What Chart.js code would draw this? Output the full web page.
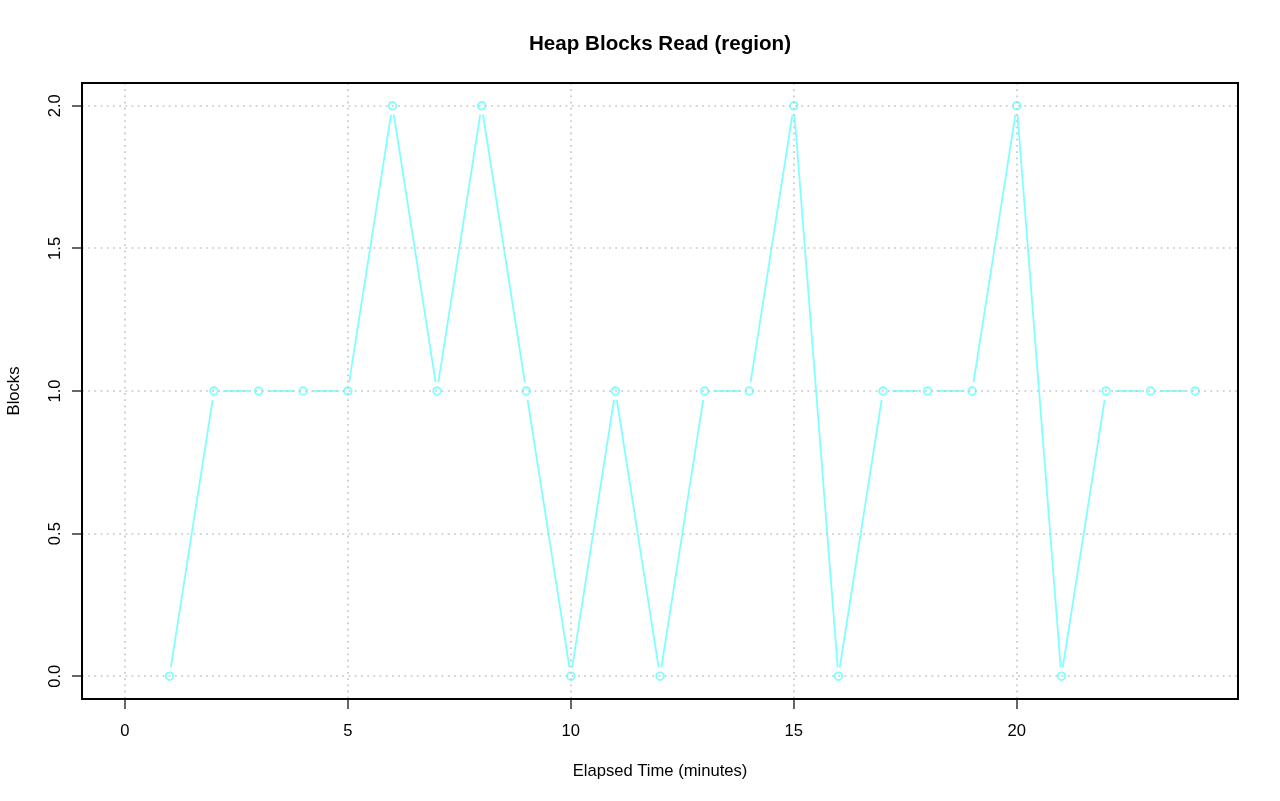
<!DOCTYPE html>
<html>
    <head>
        <meta charset="UTF-8"/>
        <script src="https://cdn.jsdelivr.net/npm/chart.js@4.4.1/dist/chart.umd.min.js"></script>
        <style>
            body { margin: 0; background: #fff; }
        </style>
    </head>
    <body>
        <canvas id="chart" width="1280" height="801"></canvas>

        <script>
        // data
        const minutes = [1, 2, 3, 4, 5, 6, 7, 8, 9, 10, 11, 12, 13, 14, 15, 16, 17, 18, 19, 20, 21, 22, 23, 24];
        const blocks  = [0, 1, 1, 1, 1, 2, 1, 2, 1, 0, 1, 0, 1, 1, 2, 0, 1, 1, 1, 2, 0, 1, 1, 1];
        const xTicks = [0, 5, 10, 15, 20];
        const yTicks = [0, 0.5, 1, 1.5, 2];
        const yTickLabels = ['0.0', '0.5', '1.0', '1.5', '2.0'];

        const titleText = 'Heap Blocks Read (region)';
        const xTitle = 'Elapsed Time (minutes)';
        const yTitle = 'Blocks';

        const lineColor = '#80ffff';
        const font = '"Liberation Sans", Arial, sans-serif';

        // R style "b" lines: segments stop short of the points
        const gappedLines = {
            id: 'gappedLines',
            beforeDatasetsDraw(chart) {
                const ctx = chart.ctx;
                const pts = chart.getDatasetMeta(0).data;
                const gap = 9;
                ctx.save();
                ctx.strokeStyle = lineColor;
                ctx.lineWidth = 1.8;
                for (let i = 1; i < pts.length; i++) {
                    const a = pts[i - 1], b = pts[i];
                    const dx = b.x - a.x, dy = b.y - a.y;
                    const d = Math.sqrt(dx * dx + dy * dy);
                    if (d <= gap * 2) continue;
                    const ux = dx / d, uy = dy / d;
                    ctx.beginPath();
                    ctx.moveTo(a.x + ux * gap, a.y + uy * gap);
                    ctx.lineTo(b.x - ux * gap, b.y - uy * gap);
                    ctx.stroke();
                }
                ctx.restore();
            }
        };

        // grid on top of data, then box, ticks and labels like base R graphics
        const rAxes = {
            id: 'rAxes',
            afterDatasetsDraw(chart) {
                const ctx = chart.ctx;
                const area = chart.chartArea;
                const xs = chart.scales.x, ys = chart.scales.y;
                ctx.save();

                // grid
                ctx.strokeStyle = '#c6c6c6';
                ctx.lineWidth = 1.6;
                ctx.setLineDash([1.8, 4.4]);
                xTicks.forEach(v => {
                    const px = Math.round(xs.getPixelForValue(v));
                    ctx.beginPath();
                    ctx.moveTo(px, area.top);
                    ctx.lineTo(px, area.bottom);
                    ctx.stroke();
                });
                yTicks.forEach(v => {
                    const py = Math.round(ys.getPixelForValue(v));
                    ctx.beginPath();
                    ctx.moveTo(area.left, py);
                    ctx.lineTo(area.right, py);
                    ctx.stroke();
                });
                ctx.setLineDash([]);

                // box
                ctx.strokeStyle = '#000';
                ctx.lineWidth = 2;
                ctx.strokeRect(area.left, area.top, area.right - area.left, area.bottom - area.top);

                // ticks
                ctx.lineWidth = 1.2;
                xTicks.forEach(v => {
                    const px = Math.round(xs.getPixelForValue(v));
                    ctx.beginPath();
                    ctx.moveTo(px, area.bottom);
                    ctx.lineTo(px, area.bottom + 10);
                    ctx.stroke();
                });
                yTicks.forEach(v => {
                    const py = Math.round(ys.getPixelForValue(v));
                    ctx.beginPath();
                    ctx.moveTo(area.left, py);
                    ctx.lineTo(area.left - 10, py);
                    ctx.stroke();
                });

                // tick labels
                ctx.fillStyle = '#000';
                ctx.font = '16.6px ' + font;
                ctx.textAlign = 'center';
                ctx.textBaseline = 'alphabetic';
                xTicks.forEach(v => {
                    ctx.fillText(String(v), xs.getPixelForValue(v), 736);
                });
                yTicks.forEach((v, i) => {
                    ctx.save();
                    ctx.translate(60, ys.getPixelForValue(v));
                    ctx.rotate(-Math.PI / 2);
                    ctx.fillText(yTickLabels[i], 0, 0);
                    ctx.restore();
                });

                // axis titles
                ctx.fillText(xTitle, (area.left + area.right) / 2, 776);
                ctx.save();
                ctx.translate(19, (area.top + area.bottom) / 2);
                ctx.rotate(-Math.PI / 2);
                ctx.fillText(yTitle, 0, 0);
                ctx.restore();

                // main title
                ctx.font = 'bold 20.6px ' + font;
                ctx.fillText(titleText, (area.left + area.right) / 2, 50);

                ctx.restore();
            }
        };

        const ctx = document.getElementById('chart').getContext('2d');
        const myChart = new Chart(ctx, {
            type: 'scatter',
            data: {
                datasets: [{
                    label: yTitle,
                    data: minutes.map((m, i) => ({x: m, y: blocks[i]})),
                    showLine: false,
                    pointStyle: 'circle',
                    pointRadius: 3.8,
                    pointHoverRadius: 3.8,
                    pointBorderWidth: 1.9,
                    pointBorderColor: lineColor,
                    pointBackgroundColor: 'rgba(0,0,0,0)'
                }]
            },
            options: {
                responsive: false,
                animation: false,
                events: [],
                layout: {
                    padding: {left: 82, right: 42, top: 83, bottom: 102}
                },
                plugins: {
                    legend: {display: false},
                    title: {display: false},
                    tooltip: {enabled: false}
                },
                scales: {
                    x: {type: 'linear', display: false, min: -0.96, max: 24.96},
                    y: {type: 'linear', display: false, min: -0.08, max: 2.08}
                }
            },
            plugins: [gappedLines, rAxes]
        });
        </script>
    </body>
</html>
